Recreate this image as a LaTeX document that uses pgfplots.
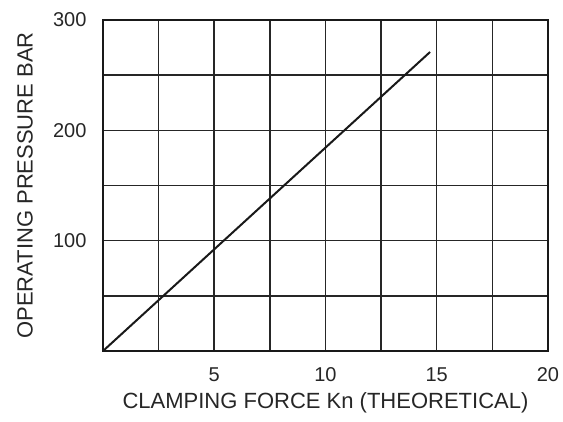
\documentclass[border=0pt]{standalone}
\usepackage{fontspec}
\setmainfont{Liberation Sans}
\usepackage{pgfplots}
\pgfplotsset{compat=1.18}
\begin{document}
\begin{tikzpicture}
\useasboundingbox (-103pt,-70pt) rectangle (460pt,351pt);
\begin{axis}[
  at={(0,0)}, anchor=south west,
  scale only axis, width=445pt, height=331pt,
  xmin=0, xmax=20, ymin=0, ymax=300,
  xtick={5,10,15,20}, ytick={100,200,300},
  minor xtick={2.5,7.5,12.5,17.5}, minor ytick={50,150,250},
  grid=both,
  major grid style={black!85, line width=1.5pt},
  minor grid style={black!85, line width=1.5pt},
  axis line style={black!90, line width=2pt},
  major tick length=0pt, minor tick length=0pt,
  /pgf/number format/assume math mode=true,
  ticklabel style={font=\fontsize{20}{24}\selectfont, text=black!85},
  xticklabel style={yshift=-13pt},
  yticklabel style={xshift=-13pt},
  label style={font=\fontsize{22}{26}\selectfont, text=black!85},
  xlabel={CLAMPING FORCE Kn (THEORETICAL)},
  ylabel={OPERATING PRESSURE BAR},
  xlabel style={at={(rel axis cs:0.5,0)}, anchor=center, yshift=-52pt},
  ylabel style={at={(rel axis cs:0,0.5)}, anchor=center, yshift=78pt},
]
\addplot[black!90, line width=2pt] coordinates {(0,0) (14.7,271)};
\end{axis}
\end{tikzpicture}
\end{document}
